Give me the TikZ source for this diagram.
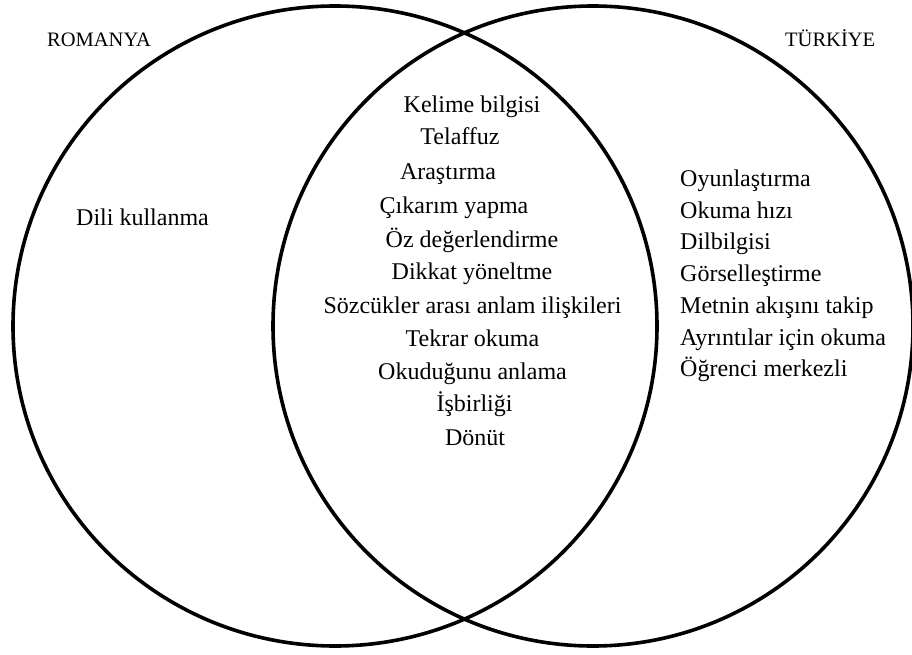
\documentclass[tikz,border=0pt]{standalone}
\usepackage{fontspec}
\setmainfont{Liberation Serif}
\begin{document}
\begin{tikzpicture}[x=1pt,y=-1pt,
  setline/.style={line width=3.6pt,black},
  item/.style={inner sep=0pt,font=\fontsize{24}{28}\selectfont},
  itemleft/.style={item,anchor=base west},
  itemmid/.style={item,anchor=base},
  setlabel/.style={inner sep=0pt,anchor=base west,font=\fontsize{20.5}{24}\selectfont}]
\useasboundingbox (0,0) rectangle (912,655);
\clip (0,0) rectangle (912,655);
% the two sets
\draw[setline] (335,326) ellipse [x radius=322,y radius=320];
\draw[setline] (593,326) ellipse [x radius=320,y radius=320];
% set names
\node[setlabel] (romanya) at (47,47) {ROMANYA};
\node[setlabel] (turkiye) at (785,47) {TÜRKİYE};
% left only
\node[itemleft] (l1) at (76,225) {Dili kullanma};
% shared items
\node[itemmid] (c1)  at (472,113) {Kelime bilgisi};
\node[itemmid] (c2)  at (460,145) {Telaffuz};
\node[itemmid] (c3)  at (448,179) {Araştırma};
\node[itemmid] (c4)  at (454,213) {Çıkarım yapma};
\node[itemmid] (c5)  at (472,247) {Öz değerlendirme};
\node[itemmid] (c6)  at (472,279) {Dikkat yöneltme};
\node[itemmid] (c7)  at (472.5,313) {Sözcükler arası anlam ilişkileri};
\node[itemmid] (c8)  at (472.5,346) {Tekrar okuma};
\node[itemmid] (c9)  at (472.5,379) {Okuduğunu anlama};
\node[itemmid] (c10) at (474.5,411) {İşbirliği};
\node[itemmid] (c11) at (475,445) {Dönüt};
% right only
\node[itemleft] (r1) at (680,186) {Oyunlaştırma};
\node[itemleft] (r2) at (680,218) {Okuma hızı};
\node[itemleft] (r3) at (680,249) {Dilbilgisi};
\node[itemleft] (r4) at (680,281) {Görselleştirme};
\node[itemleft] (r5) at (680,313) {Metnin akışını takip};
\node[itemleft] (r6) at (680,345) {Ayrıntılar için okuma};
\node[itemleft] (r7) at (680,376) {Öğrenci merkezli};
\end{tikzpicture}
\end{document}
